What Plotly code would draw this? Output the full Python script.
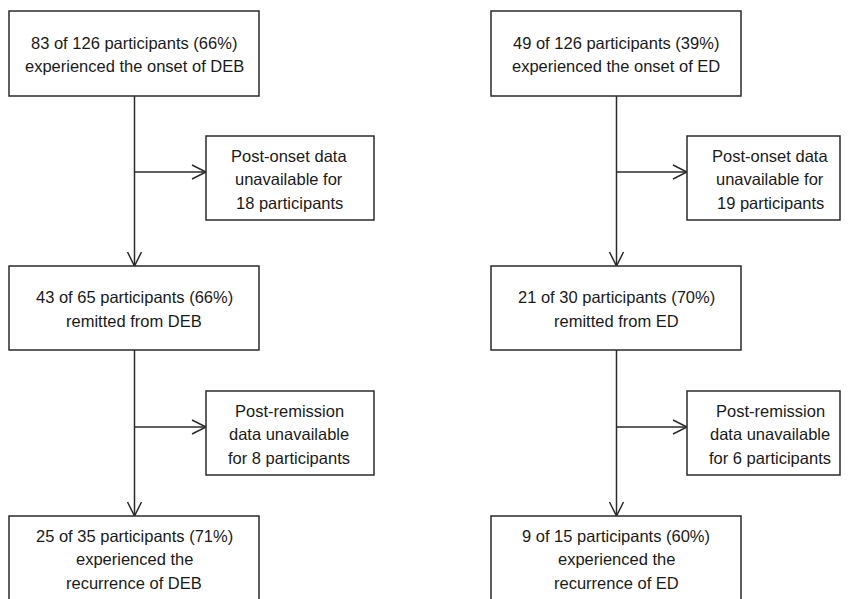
import plotly.graph_objects as go

W, H = 849, 599

# Flowchart content (two panels)
panel_main = [
    ["83 of 126 participants (66%)", "experienced the onset of DEB"],
    ["43 of 65 participants (66%)", "remitted from DEB"],
    ["25 of 35 participants (71%)", "experienced the", "recurrence of DEB"],
]
panel_main_r = [
    ["49 of 126 participants (39%)", "experienced the onset of ED"],
    ["21 of 30 participants (70%)", "remitted from ED"],
    ["9 of 15 participants (60%)", "experienced the", "recurrence of ED"],
]
panel_side = [
    ["Post-onset data", "unavailable for", "18 participants"],
    ["Post-remission", "data unavailable", "for 8 participants"],
]
panel_side_r = [
    ["Post-onset data", "unavailable for", "19 participants"],
    ["Post-remission", "data unavailable", "for 6 participants"],
]
mains = [panel_main, panel_main_r]
sides = [panel_side, panel_side_r]

# layout geometry (pixels)
main_x = [(9, 259), (491, 741)]
side_x = [(206, 374), (687, 840)]
main_y = [(11, 96), (266, 350), (516, 602)]
side_y = [(136, 220), (391, 475)]

LC = "#2b2b2b"
LW = 1.5
FONT = dict(family="Liberation Sans, Arial, sans-serif", size=16.5, color="#1a1a1a")
LINE_SP = 23.5

fig = go.Figure()
shapes = []
annotations = []

def box(x0, x1, y0, y1):
    shapes.append(dict(type="rect", x0=x0, x1=x1, y0=y0, y1=y1, xref="x", yref="y",
                       line=dict(color=LC, width=LW), fillcolor="white", layer="above"))

def line(x0, y0, x1, y1):
    shapes.append(dict(type="line", x0=x0, x1=x1, y0=y0, y1=y1, xref="x", yref="y",
                       line=dict(color=LC, width=LW)))

def vhead(x, y):
    shapes.append(dict(type="path", path=f"M {x-7},{y-14} L {x},{y} L {x+7},{y-14}",
                       xref="x", yref="y", line=dict(color=LC, width=LW)))

def hhead(x, y):
    shapes.append(dict(type="path", path=f"M {x-14},{y-7} L {x},{y} L {x-14},{y+7}",
                       xref="x", yref="y", line=dict(color=LC, width=LW)))

def text_block(cx, cy, lines):
    n = len(lines)
    for k, t in enumerate(lines):
        y = cy + (k - (n - 1) / 2) * LINE_SP
        annotations.append(dict(x=cx, y=y, text=t, showarrow=False, xref="x", yref="y",
                                xanchor="center", yanchor="middle", font=FONT, align="center"))

for p in range(2):
    mx0, mx1 = main_x[p]
    cx = (mx0 + mx1) / 2 + 0.5
    sx0, sx1 = side_x[p]
    for i in range(2):
        ytop = main_y[i][1]
        ybot = main_y[i + 1][0]
        line(cx, ytop, cx, ybot)
        vhead(cx, ybot)
        sy0, sy1 = side_y[i]
        ay = (sy0 + sy1) / 2 - 6
        line(cx, ay, sx0, ay)
        hhead(sx0, ay)
    for i, lines in enumerate(mains[p]):
        y0, y1 = main_y[i]
        box(mx0, mx1, y0, y1)
        text_block((mx0 + mx1) / 2, (516 + 600) / 2 + 1 if i == 2 else (y0 + y1) / 2 + 1, lines)
    for i, lines in enumerate(sides[p]):
        y0, y1 = side_y[i]
        box(sx0, sx1, y0, y1)
        text_block((sx0 + sx0 + 168) / 2 - 1, (y0 + y1) / 2 + 1, lines)

fig.update_layout(
    width=W, height=H,
    margin=dict(l=0, r=0, t=0, b=0),
    paper_bgcolor="white", plot_bgcolor="white",
    xaxis=dict(range=[0, W], visible=False, fixedrange=True),
    yaxis=dict(range=[H, 0], visible=False, fixedrange=True),
    shapes=shapes, annotations=annotations, showlegend=False,
)
fig.write_html(
    "out.html",
    config={"displayModeBar": False, "staticPlot": True},
    post_script="document.body.style.margin='0';document.body.style.overflow='hidden';",
)
